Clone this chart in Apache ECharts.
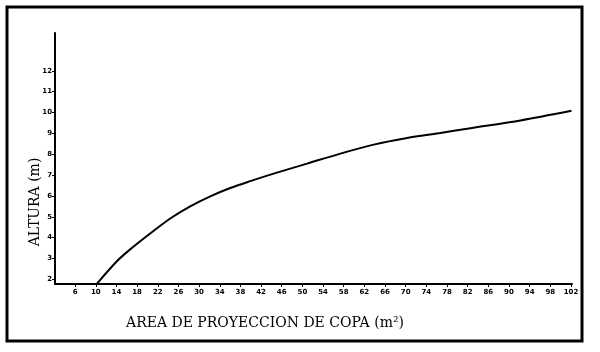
<!doctype html>
<html lang="es">
<head>
<meta charset="UTF-8">
<title>Altura vs area de proyeccion de copa</title>
<script src="https://cdn.jsdelivr.net/npm/echarts@6/dist/echarts.min.js"></script>
<style>
  html, body { margin: 0; padding: 0; background: #fff; }
  #main { width: 600px; height: 352px; }
</style>
</head>
<body>
<div id="main"></div>
<script>
// curva
var areaVals   = [10.2, 14.08, 16.65, 20.53, 24.41, 28.28, 32.16, 36.03, 39.91, 44.43, 50.9, 57.35, 63.81, 70.28, 76.73, 82.55, 92.24, 102.1];
var alturaVals = [1.79, 2.87, 3.44, 4.2, 4.92, 5.5, 5.98, 6.38, 6.71, 7.07, 7.55, 8.03, 8.46, 8.78, 9.02, 9.25, 9.62, 10.08];

var xTicks = [6, 10, 14, 18, 22, 26, 30, 34, 38, 42, 46, 50, 54, 58, 62, 66, 70, 74, 78, 82, 86, 90, 94, 98, 102];
var yTicks = [2, 3, 4, 5, 6, 7, 8, 9, 10, 11, 12];

var xTitle = 'AREA DE PROYECCION DE COPA (m²)';
var yTitle = 'ALTURA (m)';

var puntos = [];
for (var i = 0; i < areaVals.length; i++) {
    puntos.push([areaVals[i], alturaVals[i]]);
}

var myChart = echarts.init(document.getElementById('main'));

var tickFont = {
    color: '#000',
    fontSize: 7,
    fontWeight: 'bold',
    fontFamily: 'DejaVu Sans'
};

option = {
    animation: false,
    grid: { left: 55, right: 28, top: 33, bottom: 68 },
    xAxis: {
        type: 'value',
        min: 2.1,
        max: 102.2,
        axisLine: { lineStyle: { color: '#000', width: 2 } },
        axisTick: { customValues: xTicks, length: 3, lineStyle: { color: '#000', width: 1 } },
        axisLabel: Object.assign({ customValues: xTicks, margin: 5 }, tickFont),
        splitLine: { show: false }
    },
    yAxis: {
        type: 'value',
        min: 1.78,
        max: 13.81,
        axisLine: { show: true, lineStyle: { color: '#000', width: 2 } },
        axisTick: { show: true, customValues: yTicks, length: 3, lineStyle: { color: '#000', width: 1 } },
        axisLabel: Object.assign({ customValues: yTicks, margin: 3 }, tickFont),
        splitLine: { show: false }
    },
    graphic: [
        {
            type: 'rect',
            shape: { x: 7, y: 7, width: 575, height: 334 },
            style: { fill: null, stroke: '#000', lineWidth: 3 }
        },
        {
            type: 'text',
            x: 265, y: 323,
            style: {
                text: xTitle,
                fill: '#000',
                font: '14px "DejaVu Serif"',
                align: 'center',
                verticalAlign: 'middle'
            }
        },
        {
            type: 'text',
            x: 35, y: 202,
            rotation: Math.PI / 2,
            style: {
                text: yTitle,
                fill: '#000',
                font: '14px "DejaVu Serif"',
                align: 'center',
                verticalAlign: 'middle'
            }
        }
    ],
    series: [{
        type: 'line',
        data: puntos,
        smooth: 0.3,
        showSymbol: false,
        lineStyle: { color: '#000', width: 2 }
    }]
};

myChart.setOption(option);
</script>
</body>
</html>
